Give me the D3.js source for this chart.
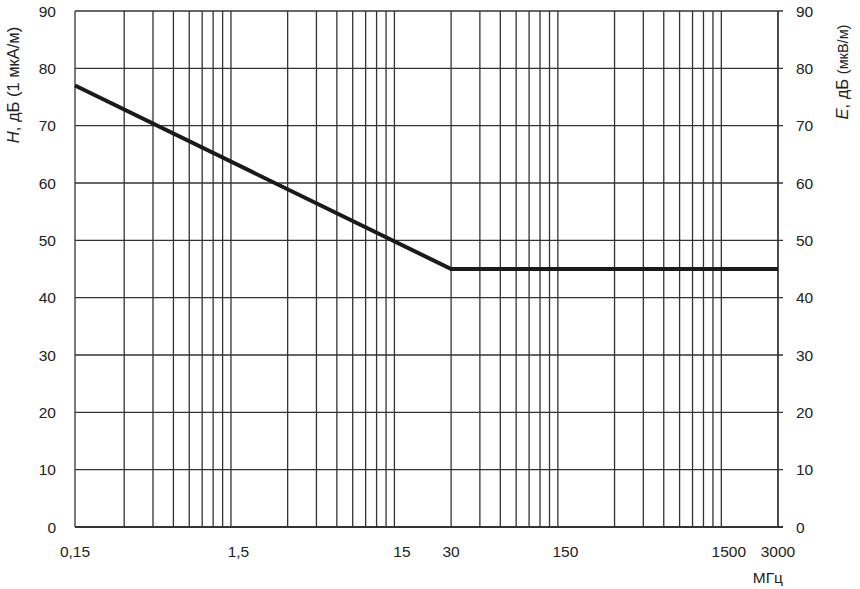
<!DOCTYPE html>
<html>
<head>
<meta charset="utf-8">
<script src="https://cdn.jsdelivr.net/npm/d3@7"></script>
<style>
    body { margin: 0; background: #fff; }
    svg text { font-family: "Liberation Sans", Arial, sans-serif; fill: #222; }
</style>
</head>
<body>
<div id="chart"></div>
<script>
// x axis labels (MHz)
var freqTicks = [0.15, 1.5, 15, 30, 150, 1500, 3000];
var freqLabels = ["0,15", "1,5", "15", "30", "150", "1500", "3000"];

// vertical grid: 2..9 times each decade start, plus the last frequency
var gridDecades = [0.15, 1.5, 15, 150];
var gridMultipliers = [2, 3, 4, 5, 6, 7, 8, 9];
var gridExtra = [3000];

// level ticks, dB
var levelTicks = [0, 10, 20, 30, 40, 50, 60, 70, 80, 90];

// limit line
var limitFreq = [0.15, 30, 3000];
var limitLevel = [77, 45, 45];

var width = 860, height = 589;
// note: "top" is taken by window.top, so the plot box gets its own names
var plotLeft = 75, plotRight = 778, plotTop = 11, plotBottom = 527;

var svg = d3.select("#chart").append("svg").attr("width", width).attr("height", height);

var x = d3.scaleLog().domain([0.15, 3000]).range([plotLeft, plotRight]);
var y = d3.scaleLinear().domain([0, 90]).range([plotBottom, plotTop]);

var gridFreqs = [];
gridDecades.forEach(function (d) {
    gridMultipliers.forEach(function (m) {
        gridFreqs.push(d * m);
    });
});
gridFreqs = gridFreqs.concat(gridExtra);

var grid = svg.append("g").attr("stroke", "#333").attr("stroke-width", 1.3);

// horizontal lines, running a little past the right edge as ticks
grid.selectAll("line.h").data(levelTicks).enter().append("line")
    .attr("class", "h")
    .attr("x1", plotLeft).attr("x2", plotRight + 5)
    .attr("y1", function (d) { return y(d); })
    .attr("y2", function (d) { return y(d); });

grid.selectAll("line.v").data(gridFreqs).enter().append("line")
    .attr("class", "v")
    .attr("x1", function (d) { return x(d); })
    .attr("x2", function (d) { return x(d); })
    .attr("y1", plotTop).attr("y2", plotBottom);

// axes
grid.append("line").attr("x1", plotLeft).attr("x2", plotLeft).attr("y1", plotTop).attr("y2", plotBottom);
grid.append("line").attr("x1", plotRight).attr("x2", plotRight).attr("y1", plotTop).attr("y2", plotBottom);
grid.append("line").attr("x1", plotLeft).attr("x2", plotRight + 5).attr("y1", plotBottom).attr("y2", plotBottom)
    .attr("stroke-width", 1.8);

// limit line
var line = d3.line()
    .x(function (d) { return x(d[0]); })
    .y(function (d) { return y(d[1]); });

svg.append("path")
    .datum(d3.zip(limitFreq, limitLevel))
    .attr("d", line)
    .attr("fill", "none")
    .attr("stroke", "#1a1a1a")
    .attr("stroke-width", 4)
    .attr("stroke-linejoin", "miter");

// tick labels
svg.selectAll("text.yl").data(levelTicks).enter().append("text")
    .attr("class", "yl")
    .attr("x", 56)
    .attr("y", function (d) { return y(d); })
    .attr("dy", "0.36em")
    .attr("text-anchor", "end")
    .style("font-size", "15.5px")
    .text(function (d) { return d; });

svg.selectAll("text.yr").data(levelTicks).enter().append("text")
    .attr("class", "yr")
    .attr("x", 796)
    .attr("y", function (d) { return y(d); })
    .attr("dy", "0.36em")
    .style("font-size", "15.5px")
    .text(function (d) { return d; });

svg.selectAll("text.xl").data(freqTicks).enter().append("text")
    .attr("class", "xl")
    .attr("x", function (d) { return x(d); })
    .attr("y", 557)
    .attr("text-anchor", "middle")
    .style("font-size", "15.5px")
    .text(function (d, i) { return freqLabels[i]; });

svg.append("text")
    .attr("x", 783).attr("y", 583)
    .attr("text-anchor", "end")
    .style("font-size", "15.5px")
    .text("МГц");

// axis titles
var lt = svg.append("text")
    .attr("transform", "translate(19,85) rotate(-90)")
    .attr("text-anchor", "middle")
    .style("font-size", "16.5px");
lt.append("tspan").style("font-style", "italic").text("H");
lt.append("tspan").text(", дБ (1 мкА/м)");

var rt = svg.append("text")
    .attr("transform", "translate(848,72) rotate(-90)")
    .attr("text-anchor", "middle")
    .style("font-size", "16.5px");
rt.append("tspan").style("font-style", "italic").text("E");
rt.append("tspan").text(", дБ ");
rt.append("tspan").style("font-size", "14.5px").text("(мкВ/м)");
</script>
</body>
</html>
